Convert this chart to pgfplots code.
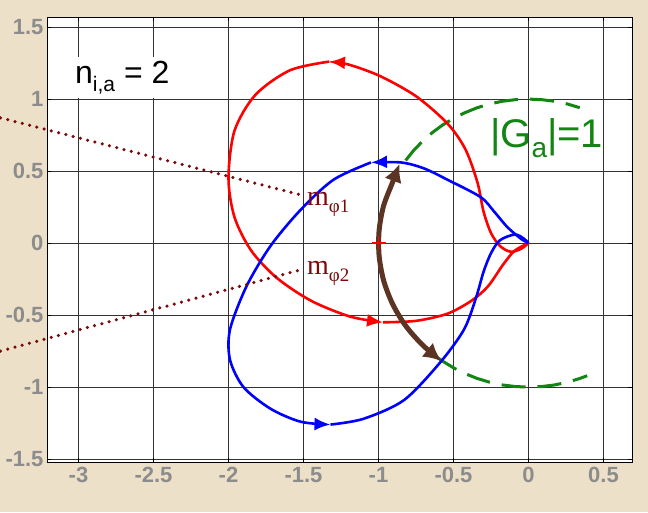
\documentclass[border=0pt]{standalone}
\usepackage{pgfplots}
\pgfplotsset{compat=1.18}
\usepackage{fontspec}
\setmainfont{Liberation Sans}
\newfontfamily\serif{Liberation Serif}
\usetikzlibrary{arrows.meta}
\definecolor{bg}{HTML}{EDE0C8}
\definecolor{tk}{HTML}{8C8C8C}
\definecolor{dg}{HTML}{138513}
\definecolor{br}{HTML}{5C3424}
\definecolor{dr}{HTML}{7A0A0A}
\begin{document}
\begin{tikzpicture}[x=1pt,y=1pt]
\useasboundingbox (0,0) rectangle (648,512);
\fill[bg] (0,0) rectangle (648,512);
\begin{axis}[at={(47pt,50pt)},anchor=south west,scale only axis,width=585pt,height=445pt,
  xmin=-3.21,xmax=0.69,ymin=-1.52,ymax=1.57,clip=false,
  axis background/.style={fill=white},
  xtick={-3,-2.5,...,0.5},ytick={-1.5,-1,...,1.5},
  grid=major,grid style={black!80,line width=0.5pt},
  axis line style={black,line width=0.6pt},
  tick style={black},
  /pgf/number format/assume math mode=true,
  ticklabel style={font=\fontsize{22}{22}\selectfont,text=tk},
  xticklabel style={yshift=-2pt},
  xticklabels={\textbf{-3},\textbf{-2.5},\textbf{-2},\textbf{-1.5},\textbf{-1},\textbf{-0.5},\textbf{0},\textbf{0.5}},
  yticklabels={\textbf{-1.5},\textbf{-1},\textbf{-0.5},\textbf{0},\textbf{0.5},\textbf{1},\textbf{1.5}},
]
% green unit circle
\addplot[dg,line width=3pt,dash pattern=on 24pt off 12pt] coordinates {(-0.819,0.574)(-0.766,0.643)(-0.707,0.707)(-0.643,0.766)(-0.574,0.819)(-0.5,0.866)(-0.423,0.906)(-0.342,0.940)(-0.259,0.966)(-0.174,0.985)(-0.087,0.996)(0,1)(0.087,0.996)(0.174,0.985)(0.259,0.966)(0.342,0.940)};
\addplot[dg,line width=3pt,dash pattern=on 24pt off 12pt] coordinates {(-0.616,-0.788)(-0.574,-0.819)(-0.5,-0.866)(-0.423,-0.906)(-0.342,-0.940)(-0.259,-0.966)(-0.174,-0.985)(-0.087,-0.996)(0,-1)(0.087,-0.996)(0.174,-0.985)(0.259,-0.966)(0.342,-0.940)(0.391,-0.921)};
% red curve
\addplot[red,line width=2.6pt,smooth,-{Latex[length=16pt,width=13pt]}] coordinates {(0,0)(-0.05,-0.04)(-0.12,-0.06)(-0.19,-0.02)(-0.25,0.07)(-0.3,0.22)(-0.34,0.42)(-0.42,0.65)(-0.54,0.83)(-0.75,1.02)(-0.99,1.16)(-1.2,1.24)(-1.33,1.26)};
\addplot[red,line width=2.6pt,smooth,-{Latex[length=16pt,width=13pt]}] coordinates {(-1.33,1.26)(-1.59,1.2)(-1.82,1.03)(-1.96,0.78)(-2.0,0.45)(-1.96,0.18)(-1.85,-0.05)(-1.68,-0.24)(-1.45,-0.4)(-1.19,-0.51)(-0.97,-0.55)};
\addplot[red,line width=2.6pt,smooth] coordinates {(-0.97,-0.55)(-0.75,-0.54)(-0.54,-0.49)(-0.38,-0.4)(-0.27,-0.3)(-0.17,-0.15)(-0.1,-0.06)(-0.04,-0.02)(0,0)};
% blue curve
\addplot[blue,line width=2.6pt,smooth,-{Latex[length=16pt,width=13pt]}] coordinates {(0,0)(-0.05,0.03)(-0.14,0.11)(-0.23,0.22)(-0.32,0.32)(-0.54,0.44)(-0.7,0.52)(-0.85,0.56)(-1.05,0.56)};
\addplot[blue,line width=2.6pt,smooth,-{Latex[length=16pt,width=13pt]}] coordinates {(-1.05,0.56)(-1.3,0.44)(-1.52,0.23)(-1.72,-0.02)(-1.88,-0.3)(-1.99,-0.6)(-1.99,-0.81)(-1.9,-1.0)(-1.72,-1.15)(-1.52,-1.24)(-1.32,-1.26)};
\addplot[blue,line width=2.6pt,smooth] coordinates {(-1.32,-1.26)(-1.1,-1.22)(-0.83,-1.09)(-0.59,-0.83)(-0.43,-0.6)(-0.35,-0.38)(-0.3,-0.2)(-0.25,-0.07)(-0.19,0.02)(-0.09,0.06)(-0.03,0.03)(0,0)};
% brown arrow
\addplot[br,line width=5pt,smooth,{Latex[length=18pt,width=18pt]}-{Latex[length=18pt,width=18pt]}] coordinates {(-0.86,0.55)(-0.906,0.423)(-0.966,0.259)(-0.996,0.087)(-0.996,-0.087)(-0.966,-0.259)(-0.906,-0.423)(-0.819,-0.574)(-0.707,-0.707)(-0.58,-0.82)};
% red plus
\addplot[red,only marks,mark=+,mark size=7pt,line width=1.5pt] coordinates {(-1,0)};
% dotted lines
\addplot[dr,line width=3.5pt,line cap=round,dash pattern=on 0pt off 7.5pt] coordinates {(-3.52,0.87)(-1.5,0.33)};
\addplot[dr,line width=3.5pt,line cap=round,dash pattern=on 0pt off 7.5pt] coordinates {(-3.52,-0.75)(-1.5,-0.18)};
\node[anchor=west,text=dr,font=\serif\fontsize{28}{28}\selectfont] at (axis cs:-1.5,0.27) {m\raisebox{-7pt}{\fontsize{19}{19}\selectfont φ1}};
\node[anchor=west,text=dr,font=\serif\fontsize{28}{28}\selectfont] at (axis cs:-1.5,-0.21) {m\raisebox{-7pt}{\fontsize{19}{19}\selectfont φ2}};
\node[fill=white,anchor=west,font=\fontsize{32}{32}\selectfont,inner sep=4pt] at (axis cs:-3.05,1.15) {n\raisebox{-8pt}{\fontsize{21}{21}\selectfont i,a} = 2};
\node[text=dg,font=\fontsize{40}{40}\selectfont,anchor=west] at (axis cs:-0.28,0.73) {|G\raisebox{-10pt}{\fontsize{28}{28}\selectfont a}|=1};
\end{axis}
\end{tikzpicture}
\end{document}
